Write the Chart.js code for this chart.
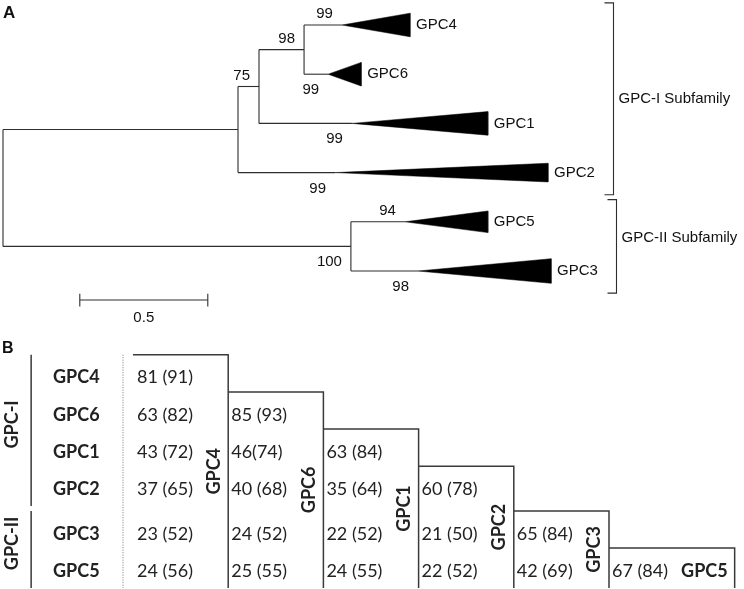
<!DOCTYPE html>
<html><head><meta charset="utf-8">
<script src="https://cdn.jsdelivr.net/npm/chart.js@4.4.1/dist/chart.umd.min.js"></script>
<style>
html,body{margin:0;padding:0;background:#fff;}
#wrap{position:relative;width:744px;height:589px;overflow:hidden;background:#fff;}
canvas{position:absolute;left:0;}
#tree{top:0;}
#table{top:330px;}
</style></head><body>
<div id="wrap"><canvas id="tree" width="744" height="330"></canvas><canvas id="table" width="744" height="259"></canvas></div>
<script>
// ---------- Panel A: phylogenetic tree data ----------
const leafNames    = ['GPC4', 'GPC6', 'GPC1', 'GPC2', 'GPC5', 'GPC3'];
const leafBranch   = [0.148, 0.094, 0.363, 0.379, 0.211, 0.262];   // stem to collapsed clade
const cladeDepth   = [0.266, 0.129, 0.531, 0.832, 0.324, 0.520];   // depth of collapsed clade
const cladeSpread  = [0.24, 0.24, 0.24, 0.19, 0.22, 0.25];         // half height of clade triangle (leaf units)
const leafSupport  = [99, 99, 99, 99, 94, 98];
const nodeNames    = ['N98', 'N75', 'GPCI', 'GPCII', 'ROOT'];
const nodeChildren = [['GPC4', 'GPC6'], ['N98', 'GPC1'], ['N75', 'GPC2'], ['GPC5', 'GPC3'], ['GPCI', 'GPCII']];
const nodeBranch   = [0.176, 0.082, 0.918, 1.359, 0];
const nodeSupport  = [98, 75, null, 100, null];
const subfamilyNames  = ['GPC-I Subfamily', 'GPC-II Subfamily'];
const subfamilyLeaves = [['GPC4', 'GPC2'], ['GPC5', 'GPC3']];
const scaleBarValue = 0.5;

// ---------- Panel B: identity (similarity) matrix ----------
const matrixNames  = ['GPC4', 'GPC6', 'GPC1', 'GPC2', 'GPC3', 'GPC5'];
const groupNames   = ['GPC-I', 'GPC-II'];
const groupMembers = [['GPC4', 'GPC6', 'GPC1', 'GPC2'], ['GPC3', 'GPC5']];
const cellLabels = [
  ['81 (91)'],
  ['63 (82)', '85 (93)'],
  ['43 (72)', '46(74)', '63 (84)'],
  ['37 (65)', '40 (68)', '35 (64)', '60 (78)'],
  ['23 (52)', '24 (52)', '22 (52)', '21 (50)', '65 (84)'],
  ['24 (56)', '25 (55)', '24 (55)', '22 (52)', '42 (69)', '67 (84)']
];

// ================= Panel A =================
const pos = {};
function place(name, parentX) {
  const li = leafNames.indexOf(name);
  if (li >= 0) {
    pos[name] = { x: parentX + leafBranch[li], y: li, px: parentX, leaf: li };
    return pos[name];
  }
  const ni = nodeNames.indexOf(name);
  const x = parentX + nodeBranch[ni];
  const kids = nodeChildren[ni].map(c => place(c, x));
  pos[name] = { x, y: (kids[0].y + kids[kids.length - 1].y) / 2, px: parentX, node: ni, kids };
  return pos[name];
}
place('ROOT', 0);

const TREE_LINE = '#2e2e2e';
const treeSets = [];
function tseg(pts, extra) {
  treeSets.push(Object.assign({ data: pts, borderColor: TREE_LINE, borderWidth: 1.1, pointRadius: 0,
    fill: false, tension: 0, clip: false }, extra || {}));
}
Object.keys(pos).forEach(k => {
  const p = pos[k];
  if (k !== 'ROOT') tseg([{ x: p.px, y: p.y }, { x: p.x, y: p.y }]);
  if (p.kids) tseg([{ x: p.x, y: p.kids[0].y }, { x: p.x, y: p.kids[p.kids.length - 1].y }]);
  if (p.leaf !== undefined) {
    const i = p.leaf, e = p.x + cladeDepth[i], s = cladeSpread[i];
    tseg([{ x: p.x, y: p.y }, { x: e, y: p.y - s }, { x: e, y: p.y + s }, { x: p.x, y: p.y }],
      { fill: 'shape', backgroundColor: '#000', borderColor: '#000', borderWidth: 0.5 });
  }
});
// scale bar
const SB_X = 0.3, SB_Y = 5.59, SB_T = 0.13;
tseg([{ x: SB_X, y: SB_Y }, { x: SB_X + scaleBarValue, y: SB_Y }]);
tseg([{ x: SB_X, y: SB_Y - SB_T }, { x: SB_X, y: SB_Y + SB_T }]);
tseg([{ x: SB_X + scaleBarValue, y: SB_Y - SB_T }, { x: SB_X + scaleBarValue, y: SB_Y + SB_T }]);

const supportAbove = { GPC4: true, GPC5: true, N98: true, N75: true };
const subfamilyLabelShift = [0, -9];
const treeText = {
  id: 'treeText',
  afterDatasetsDraw(chart) {
    const { ctx, scales: { x, y } } = chart;
    const X = v => x.getPixelForValue(v), Y = v => y.getPixelForValue(v);
    ctx.save();
    ctx.fillStyle = '#111';
    ctx.font = '15px "Liberation Sans", Arial, sans-serif';
    ctx.textAlign = 'left'; ctx.textBaseline = 'middle';
    const rights = {};
    leafNames.forEach((n, i) => {
      const p = pos[n];
      const lx = X(p.x + cladeDepth[i]) + 6;
      ctx.fillText(n, lx, Y(p.y));
      rights[n] = lx + ctx.measureText(n).width;
    });
    // bootstrap values
    ctx.textAlign = 'right'; ctx.textBaseline = 'alphabetic';
    const sup = (name, val) => {
      const p = pos[name], yy = Y(p.y);
      ctx.fillText(String(val), X(p.x) - 9, supportAbove[name] ? yy - 7 : yy + 20);
    };
    leafNames.forEach((n, i) => sup(n, leafSupport[i]));
    nodeNames.forEach((n, i) => { if (nodeSupport[i] != null) sup(n, nodeSupport[i]); });
    // scale bar label
    ctx.textAlign = 'center';
    ctx.fillText(String(scaleBarValue), X(SB_X + scaleBarValue / 2), Y(SB_Y) + 22);
    // subfamily brackets
    ctx.strokeStyle = TREE_LINE; ctx.lineWidth = 1.1;
    subfamilyNames.forEach((label, s) => {
      const a = leafNames.indexOf(subfamilyLeaves[s][0]), b = leafNames.indexOf(subfamilyLeaves[s][1]);
      let maxR = 0;
      for (let i = a; i <= b; i++) maxR = Math.max(maxR, rights[leafNames[i]]);
      const bx = Math.round(maxR + 18) + 0.5;
      const yt = Y(a - 0.45), yb = Y(b + 0.45);
      ctx.beginPath();
      ctx.moveTo(bx - 9, yt); ctx.lineTo(bx, yt); ctx.lineTo(bx, yb); ctx.lineTo(bx - 9, yb);
      ctx.stroke();
      ctx.textAlign = 'left'; ctx.textBaseline = 'middle';
      ctx.fillText(label, bx + 5, (yt + yb) / 2 + subfamilyLabelShift[s]);
    });
    // panel letter
    ctx.font = 'bold 17px "Liberation Sans", Arial, sans-serif';
    ctx.textAlign = 'left'; ctx.textBaseline = 'alphabetic';
    ctx.fillText('A', 3, 18);
    ctx.restore();
  }
};

const commonOpts = (xmin, xmax, ymin, ymax) => ({
  responsive: false, animation: false, events: [],
  layout: { padding: 0, autoPadding: false },
  plugins: { legend: { display: false }, tooltip: { enabled: false } },
  scales: {
    x: { type: 'linear', display: false, min: xmin, max: xmax },
    y: { type: 'linear', display: false, reverse: true, min: ymin, max: ymax }
  }
});

new Chart(document.getElementById('tree'), {
  type: 'line',
  data: { datasets: treeSets },
  options: commonOpts(-3 / 256, (744 - 3) / 256, -25 / 49.2, (330 - 25) / 49.2),
  plugins: [treeText]
});

// ================= Panel B =================
const GROUP_GAP = 0.2;
const rowPos = matrixNames.map((n, i) => i + (groupMembers[1].includes(n) ? GROUP_GAP : 0));
const nCols = matrixNames.length;
const colRight = k => (k < nCols - 1 ? k + 1 : k + 1.32);
const colTop = k => rowPos[k] - 0.6;
const tableBottom = rowPos[nCols - 1] + 0.47;
const TAB_LINE = '#3a3a3a';
const tableSets = [];
function bseg(pts, extra) {
  tableSets.push(Object.assign({ data: pts, borderColor: TAB_LINE, borderWidth: 1.5, pointRadius: 0,
    fill: false, tension: 0, clip: false }, extra || {}));
}
for (let k = 0; k < nCols; k++) {
  bseg([{ x: k, y: colTop(k) }, { x: colRight(k), y: colTop(k) }, { x: colRight(k), y: tableBottom }]);
}
bseg([{ x: -0.105, y: colTop(0) }, { x: -0.105, y: tableBottom }], { borderDash: [1, 1.5], borderColor: '#777', borderWidth: 1 });
const groupSpan = g => {
  const a = matrixNames.indexOf(groupMembers[g][0]);
  const b = matrixNames.indexOf(groupMembers[g][groupMembers[g].length - 1]);
  return [rowPos[a] - 0.6, rowPos[b] + 0.47];
};
groupNames.forEach((g, i) => {
  const [t, b] = groupSpan(i);
  bseg([{ x: -1.07, y: t }, { x: -1.07, y: b }]);
});

const TFONT = 'Lato, "Open Sans", sans-serif';
const tableText = {
  id: 'tableText',
  afterDatasetsDraw(chart) {
    const { ctx, scales: { x, y } } = chart;
    const X = v => x.getPixelForValue(v), Y = v => y.getPixelForValue(v);
    const capOff = 6.4;
    ctx.save();
    ctx.fillStyle = '#222';
    ctx.textBaseline = 'alphabetic';
    // row labels
    ctx.font = 'bold 18px ' + TFONT; ctx.textAlign = 'left';
    matrixNames.forEach((n, i) => ctx.fillText(n, X(-0.84), Y(rowPos[i]) + capOff));
    // cells
    ctx.font = '18px ' + TFONT;
    cellLabels.forEach((row, i) => row.forEach((t, k) => {
      ctx.fillText(t, X(k) + (k === 0 ? 4 : 3), Y(rowPos[i]) + capOff);
    }));
    // column labels
    ctx.font = 'bold 18px ' + TFONT;
    matrixNames.forEach((n, k) => {
      if (k < nCols - 1) {
        const cx = X(colRight(k)) - 15, cy = (Y(colTop(k)) + Y(tableBottom)) / 2;
        ctx.save(); ctx.translate(cx + capOff, cy); ctx.rotate(-Math.PI / 2);
        ctx.textAlign = 'center'; ctx.fillText(n, 0, 0); ctx.restore();
      } else {
        ctx.textAlign = 'right';
        ctx.fillText(n, X(colRight(k)) - 7, Y(rowPos[k]) + capOff);
      }
    });
    // group labels
    groupNames.forEach((g, i) => {
      const [t, b] = groupSpan(i);
      const cy = (Y(t) + Y(b)) / 2 - 6;
      ctx.save(); ctx.translate(12 + capOff, cy); ctx.rotate(-Math.PI / 2);
      ctx.textAlign = 'center'; ctx.fillText(g, 0, 0); ctx.restore();
    });
    // panel letter
    ctx.fillStyle = '#111';
    ctx.font = 'bold 16px "Liberation Sans", Arial, sans-serif';
    ctx.textAlign = 'left';
    ctx.fillText('B', 2, 23);
    ctx.restore();
  }
};

new Chart(document.getElementById('table'), {
  type: 'line',
  data: { datasets: tableSets },
  options: commonOpts(-133 / 95.2, (744 - 133) / 95.2, -47 / 37.2, (259 - 47) / 37.2),
  plugins: [tableText]
});
</script></body></html>
